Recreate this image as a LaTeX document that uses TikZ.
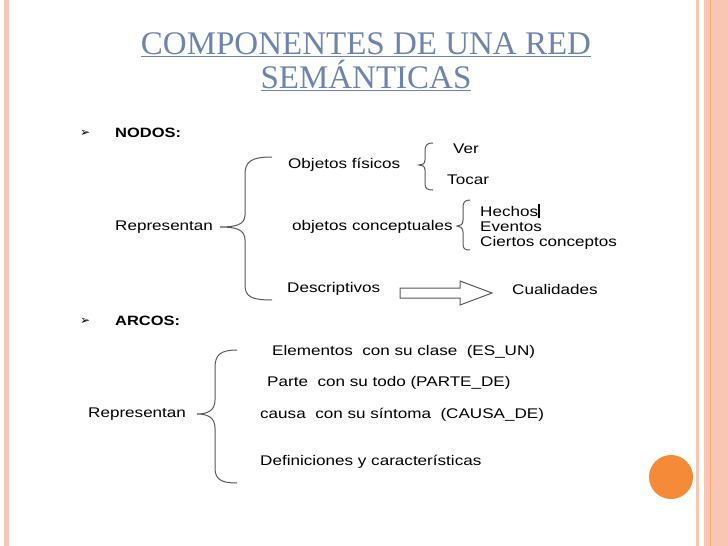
\documentclass[tikz,border=0pt]{standalone}
\usepackage{fontspec}
\setmainfont[FakeStretch=1.22]{Liberation Sans}
\newfontfamily\titlefont{Liberation Serif}
\newfontfamily\symfont{DejaVu Sans}
\definecolor{pinkb}{HTML}{F9C6B4}
\definecolor{orangeb}{HTML}{F58A38}
\definecolor{titleblue}{HTML}{6C84AE}
\begin{document}
\begin{tikzpicture}[x=1pt,y=-1pt,
  txt/.style={anchor=west,inner sep=0pt,font=\fontsize{14}{16}\selectfont},
  bold/.style={txt,font=\fontsize{13.5}{16}\selectfont\bfseries},
  brace/.style={draw=gray!70!black,line width=1pt}]
\useasboundingbox (0,0) rectangle (728,546);
\fill[white] (0,0) rectangle (728,546);
\fill[pinkb] (4,0) rectangle (9,546);
\fill[pinkb] (696,0) rectangle (699,546);
\fill[pinkb] (704,0) rectangle (728,546);
\draw[orangeb!70,line width=0.6pt] (710,0) -- (710,546);
\fill[orangeb] (671,477) circle (22);
\node[anchor=center,text=titleblue,font=\titlefont\fontsize{33}{34}\selectfont,align=center] (title) at (366,62)
 {\underline{COMPONENTES DE UNA RED}\\\underline{SEMÁNTICAS}};
\node[txt,font=\symfont\fontsize{12}{14}\selectfont] (b1) at (80,133) {➢};
\node[bold] (nodos) at (115,133) {NODOS:};
\node[txt] (rep1) at (115,227) {Representan};
\node[txt] (obj) at (288,165) {Objetos físicos};
\node[txt] (ver) at (453,149) {Ver};
\node[txt] (tocar) at (447,180) {Tocar};
\node[txt] (conc) at (292,227) {objetos conceptuales};
\node[txt] (hech) at (480,211) {Hechos};
\draw[line width=1.5pt] (539,204) -- (539,218);
\node[txt] (ev) at (480,227) {Eventos};
\node[txt] (cc) at (480,243) {Ciertos conceptos};
\node[txt] (desc) at (287,289) {Descriptivos};
\node[txt] (cual) at (512,289) {Cualidades};
\coordinate (arrs) at (400,293);
\draw[gray!70!black,line width=1pt] (arrs) ++(0,-5) -- ++(60,0) -- ++(0,-7) -- ++(32,12) -- ++(-32,12) -- ++(0,-7) -- ++(-60,0) -- cycle;
\draw[brace] (272,157) .. controls (250,157) and (245,162) .. (245,175) -- (245,215) .. controls (245,225) and (235,227) .. (220,227)
  .. controls (235,227) and (245,229) .. (245,240) -- (245,285) .. controls (245,297) and (252,300) .. (272,300);
\draw[brace] (433,143) .. controls (426,143) and (425,146) .. (425,152) -- (425,160) .. controls (425,164) and (422,165) .. (419,165)
  .. controls (422,165) and (425,166) .. (425,170) -- (425,184) .. controls (425,189) and (428,190) .. (433,190);
\draw[brace] (470,200) .. controls (464,200) and (463,203) .. (463,208) -- (463,220) .. controls (463,225) and (460,226) .. (457,226)
  .. controls (460,226) and (463,228) .. (463,232) -- (463,244) .. controls (463,249) and (465,250) .. (470,250);
\node[txt,font=\symfont\fontsize{12}{14}\selectfont] (b2) at (80,321) {➢};
\node[bold] (arcos) at (115,321) {ARCOS:};
\node[txt] (rep2) at (88,414) {Representan};
\node[txt] (e1) at (272,352) {Elementos \ con su clase \ (ES\_UN)};
\node[txt] (e2) at (267,383) {Parte \ con su todo (PARTE\_DE)};
\node[txt] (e3) at (260,415) {causa \ con su síntoma \ (CAUSA\_DE)};
\node[txt] (e4) at (260,462) {Definiciones y características};
\draw[brace] (237,350) .. controls (220,350) and (215,355) .. (215,368) -- (215,400) .. controls (215,411) and (207,414) .. (197,414)
  .. controls (207,414) and (215,417) .. (215,428) -- (215,468) .. controls (215,480) and (222,483) .. (237,483);
\end{tikzpicture}
\end{document}
